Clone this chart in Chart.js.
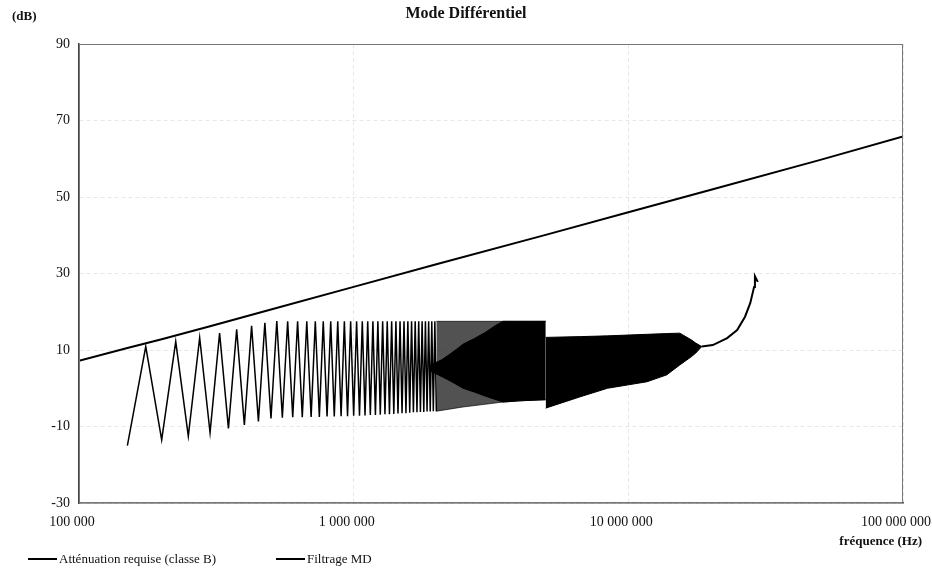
<!DOCTYPE html>
<html>
<head>
<meta charset="utf-8">
<script src="https://cdn.jsdelivr.net/npm/chart.js@4.4.1/dist/chart.umd.min.js"></script>
<style>
  body { margin: 0; background: #fff; }
  #wrap { position: relative; width: 932px; height: 576px; font-family: "Liberation Serif", serif; color: #111; }
  .lbl { position: absolute; font-size: 13px; line-height: 16px; white-space: nowrap; }
  .bold { font-weight: bold; }
  .swatch { display: inline-block; width: 29px; background: #000; vertical-align: middle; margin-right: 2px; position: relative; top: -1px; }
</style>
</head>
<body>
<div id="wrap">
  <canvas id="chart" width="932" height="576"></canvas>
  <div class="lbl bold" style="left:12px; top:8px;">(dB)</div>
  <div class="lbl bold" style="right:10px; top:533px;">fréquence (Hz)</div>
  <div class="lbl" style="left:28px; top:551px;"><span class="swatch" style="height:1.5px"></span>Atténuation requise (classe B)</div>
  <div class="lbl" style="left:276px; top:551px;"><span class="swatch" style="height:2px"></span>Filtrage MD</div>
</div>
<script>
// axis ticks
const xTickValues = [100000, 1000000, 10000000, 100000000];
const xTickLabels = ['100 000', '1 000 000', '10 000 000', '100 000 000'];
const yTickValues = [-30, -10, 10, 30, 50, 70, 90];

// required attenuation (class B)
const reqFreq = [100000, 150000, 200000, 300000, 500000, 1000000, 2000000, 5000000, 10000000, 20000000, 50000000, 100000000];
const reqDb = [7.2, 10.5, 12.8, 16.2, 20.6, 26.5, 32.4, 40.1, 46.0, 51.9, 59.7, 65.8];

// differential filtering, readable zigzag part (150 kHz - 2 MHz)
const mdFreq = [
  150000, 175000, 200000, 225000, 250000, 275000, 300000, 325000, 350000, 375000,
  400000, 425000, 450000, 475000, 500000, 525000, 550000, 575000, 600000, 625000,
  650000, 675000, 700000, 725000, 750000, 775000, 800000, 825000, 850000, 875000,
  900000, 925000, 950000, 975000, 1000000, 1025000, 1050000, 1075000, 1100000, 1125000,
  1150000, 1175000, 1200000, 1225000, 1250000, 1275000, 1300000, 1325000, 1350000, 1375000,
  1400000, 1425000, 1450000, 1475000, 1500000, 1525000, 1550000, 1575000, 1600000, 1625000,
  1650000, 1675000, 1700000, 1725000, 1750000, 1775000, 1800000, 1825000, 1850000, 1875000,
  1900000, 1925000, 1950000, 1975000, 2000000
];
const mdDb = [
  -15.0, 10.9, -13.5, 12.2, -12.5, 13.2, -11.6, 14.4, -10.5, 15.4,
  -9.6, 16.3, -8.7, 17.1, -7.9, 17.6, -7.7, 17.5, -7.6, 17.5,
  -7.6, 17.5, -7.5, 17.5, -7.5, 17.5, -7.4, 17.5, -7.4, 17.5,
  -7.3, 17.5, -7.3, 17.5, -7.2, 17.5, -7.2, 17.5, -7.1, 17.5,
  -7.0, 17.5, -7.0, 17.5, -6.9, 17.5, -6.8, 17.5, -6.8, 17.5,
  -6.7, 17.5, -6.6, 17.5, -6.5, 17.5, -6.5, 17.5, -6.4, 17.5,
  -6.3, 17.5, -6.3, 17.5, -6.2, 17.5, -6.2, 17.5, -6.1, 17.5,
  -6.1, 17.5, -6.0, 17.5, -6.0
];

// dense part 2 - 5 MHz: envelope of the oscillation
const denseFreq = [2000000, 2500000, 3000000, 3500000, 4000000, 4500000, 5000000];
const denseUpper = [17.5, 17.5, 17.5, 17.5, 17.5, 17.5, 17.5];
const denseLower = [-6.0, -4.9, -4.2, -3.6, -3.3, -3.1, -3.0];

// solid black core inside the dense part
const coreFreq = [1900000, 2100000, 2300000, 2500000, 2750000, 3000000, 3300000, 3500000, 4000000, 5000000];
const coreUpper = [6.0, 7.5, 9.5, 11.5, 13.0, 14.5, 16.5, 17.5, 17.5, 17.5];
const coreLower = [4.5, 3.0, 1.5, 0.0, -1.0, -2.0, -3.0, -3.6, -3.3, -3.0];

// 5 MHz - 18.5 MHz black band
const bandFreq = [5000000, 6700000, 8400000, 11700000, 13800000, 15400000, 17000000, 17600000, 18500000];
const bandUpper = [13.3, 13.5, 13.7, 14.1, 14.3, 14.4, 12.6, 11.8, 10.9];
const bandLower = [-5.2, -2.2, 0.0, 1.7, 3.5, 6.1, 8.3, 9.2, 10.9];

// single trace up to 30 MHz
const tailFreq = [18500000, 20300000, 22900000, 24900000, 26600000, 27800000, 28700000, 28900000, 29600000];
const tailDb = [10.9, 11.3, 13.1, 15.2, 18.7, 22.3, 26.5, 29.3, 27.8];

function pts(xs, ys) {
  return xs.map((x, i) => ({ x: x, y: ys[i] }));
}

const base = { pointRadius: 0, tension: 0, fill: false };

const framePlugin = {
  id: 'frame',
  afterDatasetsDraw(chart) {
    const { ctx, chartArea: a } = chart;
    ctx.save();
    ctx.strokeStyle = '#777';
    ctx.lineWidth = 1;
    ctx.strokeRect(a.left + 0.5, a.top + 0.5, a.right - a.left - 1, a.bottom - a.top - 1);
    ctx.restore();
  }
};

const grey = 'rgba(0,0,0,0.68)';
const tickFont = { family: 'Liberation Serif', size: 14 };

new Chart(document.getElementById('chart'), {
  type: 'line',
  data: {
    datasets: [
      Object.assign({}, base, { label: 'Atténuation requise (classe B)', data: pts(reqFreq, reqDb), borderColor: '#000', borderWidth: 2 }),
      Object.assign({}, base, { label: 'Filtrage MD (fin)', data: pts(tailFreq, tailDb), borderColor: '#000', borderWidth: 2 }),
      Object.assign({}, base, { label: 'Filtrage MD', data: pts(mdFreq, mdDb), borderColor: '#000', borderWidth: 1.5 }),
      Object.assign({}, base, { label: 'core+', data: pts(coreFreq, coreUpper), borderColor: '#000', borderWidth: 1, fill: '+1', backgroundColor: '#000' }),
      Object.assign({}, base, { label: 'core-', data: pts(coreFreq, coreLower), borderColor: '#000', borderWidth: 1 }),
      Object.assign({}, base, { label: 'band+', data: pts(bandFreq, bandUpper), borderColor: '#000', borderWidth: 1, fill: '+1', backgroundColor: '#000' }),
      Object.assign({}, base, { label: 'band-', data: pts(bandFreq, bandLower), borderColor: '#000', borderWidth: 1 }),
      Object.assign({}, base, { label: 'dense+', data: pts(denseFreq, denseUpper), borderColor: grey, borderWidth: 1, fill: '+1', backgroundColor: grey }),
      Object.assign({}, base, { label: 'dense-', data: pts(denseFreq, denseLower), borderColor: grey, borderWidth: 1 })
    ]
  },
  options: {
    responsive: false,
    animation: false,
    layout: { padding: 0 },
    plugins: {
      legend: { display: false },
      tooltip: { enabled: false },
      title: {
        display: true,
        text: 'Mode Différentiel',
        color: '#111',
        font: { family: 'Liberation Serif', size: 16, weight: 'bold', lineHeight: 1.2 },
        padding: { top: 4, bottom: 20.8 }
      }
    },
    scales: {
      x: {
        type: 'logarithmic',
        min: 100000,
        max: 100000000,
        afterBuildTicks: s => { s.ticks = xTickValues.map(v => ({ value: v })); },
        afterFit: s => { s.height = 73; s.paddingRight = 0; s.paddingLeft = 0; },
        ticks: {
          autoSkip: false,
          maxRotation: 0,
          padding: 11,
          labelOffset: -7,
          color: '#111',
          font: tickFont,
          callback: (v, i) => xTickLabels[i]
        },
        grid: { color: 'rgba(0,0,0,0.09)', drawTicks: false },
        border: { color: '#444', width: 1.5, dash: [4, 3] }
      },
      y: {
        min: -30,
        max: 90,
        afterBuildTicks: s => { s.ticks = yTickValues.map(v => ({ value: v })); },
        afterFit: s => { s.width = 79; },
        ticks: {
          padding: 9,
          color: '#111',
          font: tickFont,
          callback: v => String(v)
        },
        grid: { color: 'rgba(0,0,0,0.09)', drawTicks: false },
        border: { color: '#444', width: 1.5, dash: [4, 3] }
      },
      // empty right-hand axis, only keeps the plot's right margin
      yRight: {
        position: 'right',
        min: 0,
        max: 1,
        afterFit: s => { s.width = 29; },
        ticks: { display: false },
        grid: { display: false, drawTicks: false },
        border: { display: false }
      }
    }
  },
  plugins: [framePlugin]
});
</script>
</body>
</html>
